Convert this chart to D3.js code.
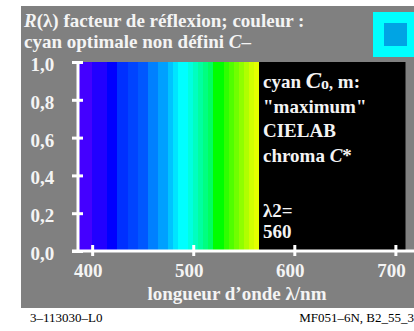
<!DOCTYPE html>
<html>
<head>
<meta charset="utf-8">
<script src="https://cdn.jsdelivr.net/npm/d3@7"></script>
<style>
  body { margin: 0; background: #fff; }
  svg { display: block; }
  text { font-family: "Liberation Serif", "Times New Roman", serif; }
</style>
</head>
<body>
<script>
// spectral bands of the optimal colour (reflectance 1 inside, 0 elsewhere)
let bandStart = [386, 400, 415, 425, 435, 445, 455, 465, 475, 480, 485, 495, 500, 505, 510, 515, 520, 530, 535, 540, 545, 550, 555, 560];
let bandEnd   = [400, 415, 425, 435, 445, 455, 465, 475, 480, 485, 495, 500, 505, 510, 515, 520, 530, 535, 540, 545, 550, 555, 560, 565];
let bandColor = ['#4400ff', '#2200ff', '#0000ff', '#0030ff', '#0044ff', '#0058ff', '#0080ff', '#00a0ff', '#00c4ff', '#00e4ff',
                 '#00ffff', '#00ffe0', '#00ffc0', '#00ffa0', '#00ff80', '#00ff60', '#00ff00', '#30ff00', '#50ff00', '#70ff00',
                 '#90ff00', '#b0ff00', '#d0ff00', '#e4ff00'];
let bandValue = 1.0;
let xTicks = [400, 500, 600, 700];
let yTicks = [0, 0.2, 0.4, 0.6, 0.8, 1.0];
let xDomain = [386, 710];

let width = 414;
let height = 331;
let fs = 19;
let svg = d3.select('body').append('svg')
   .attr('width', width)
   .attr('height', height);

// grey page
svg.append('rect')
   .attr('x', 21).attr('y', 6)
   .attr('width', width - 21).attr('height', 302)
   .attr('fill', '#808080');

// colour sample in the corner
svg.append('rect').attr('x', 373).attr('y', 12).attr('width', 41).attr('height', 45).attr('fill', '#00ffff');
svg.append('rect').attr('x', 384).attr('y', 23).attr('width', 23).attr('height', 23).attr('fill', '#00a4e4');

// title
let title1 = svg.append('text').attr('x', 24).attr('y', 27)
   .attr('fill', '#f4f4f4').attr('font-weight', 'bold').attr('font-size', fs);
title1.append('tspan').attr('font-style', 'italic').text('R');
title1.append('tspan').text('(λ) facteur de réflexion; couleur :');
let title2 = svg.append('text').attr('x', 24).attr('y', 48)
   .attr('fill', '#f4f4f4').attr('font-weight', 'bold').attr('font-size', fs);
title2.append('tspan').text('cyan optimale non défini ');
title2.append('tspan').attr('font-style', 'italic').text('C');
title2.append('tspan').text('–');

// scales
let xScale = d3.scaleLinear().domain(xDomain).range([78, 405.5]);
let yScale = d3.scaleLinear().domain([0, 1]).range([251, 62]);

// plot background
svg.append('rect')
   .attr('x', xScale(xDomain[0])).attr('y', yScale(1))
   .attr('width', xScale(xDomain[1]) - xScale(xDomain[0]))
   .attr('height', yScale(0) - yScale(1))
   .attr('fill', '#000');

// bands
svg.selectAll('rect.band')
   .data(bandStart)
   .enter()
   .append('rect')
   .attr('class', 'band')
   .attr('x', (d) => xScale(d))
   .attr('y', yScale(bandValue))
   .attr('width', (d, i) => xScale(bandEnd[i]) - xScale(d))
   .attr('height', yScale(0) - yScale(bandValue))
   .attr('fill', (d, i) => bandColor[i])
   .attr('shape-rendering', 'crispEdges');

// text in the black part
let info = svg.append('g').attr('fill', '#f4f4f4').attr('font-weight', 'bold').attr('font-size', fs);
let l1 = info.append('text').attr('x', 263).attr('y', 88);
l1.append('tspan').text('cyan ');
l1.append('tspan').attr('font-style', 'italic').attr('font-size', 23).text('C');
l1.append('tspan').attr('font-size', 16).attr('dy', 1).text('o,');
l1.append('tspan').attr('dy', -1).text(' m:');
info.append('text').attr('x', 263).attr('y', 112.5).text('"maximum"');
info.append('text').attr('x', 263).attr('y', 137).text('CIELAB');
let l4 = info.append('text').attr('x', 263).attr('y', 161.5);
l4.append('tspan').text('chroma ');
l4.append('tspan').attr('font-style', 'italic').text('C');
l4.append('tspan').text('*');
info.append('text').attr('x', 263).attr('y', 216.5).text('λ2=');
info.append('text').attr('x', 263).attr('y', 238).text('560');

// axes
let fmt = (d) => d3.format('.1f')(d).replace('.', ',');
let yAxis = svg.append('g')
   .attr('transform', 'translate(78, 0)')
   .call(d3.axisLeft(yScale).tickValues(yTicks).tickFormat(fmt).tickSize(0).tickPadding(23.7));
let xAxis = svg.append('g')
   .attr('transform', 'translate(0, 251)')
   .call(d3.axisBottom(xScale).tickValues(xTicks).tickFormat(d3.format('d')).tickSize(0).tickPadding(12.2));

yAxis.select('.domain').attr('stroke', '#fff').attr('stroke-width', 3).attr('d', 'M0,' + (yScale(1) - 1) + 'V' + yScale(0));
xAxis.select('.domain').attr('stroke', '#fff').attr('stroke-width', 3).attr('d', 'M72,0H414');
yAxis.selectAll('.tick line').attr('stroke', '#fff').attr('stroke-width', 3).attr('x1', -6).attr('x2', 5);
xAxis.selectAll('.tick line').attr('stroke', '#fff').attr('stroke-width', 3).attr('y1', -6).attr('y2', 5);
yAxis.selectAll('.tick text').attr('dy', '0.45em');
xAxis.selectAll('.tick text').attr('dx', -4.5);
svg.selectAll('.tick text')
   .attr('fill', '#f4f4f4')
   .attr('font-family', '"Liberation Serif", serif')
   .attr('font-weight', 'bold')
   .attr('font-size', fs);

// axis caption
svg.append('text')
   .attr('x', 237).attr('y', 300)
   .attr('text-anchor', 'middle')
   .attr('fill', '#f4f4f4').attr('font-weight', 'bold').attr('font-size', fs)
   .text('longueur d’onde λ/nm');

// footer
svg.append('text').attr('x', 30).attr('y', 322).attr('font-size', 13).attr('fill', '#000').text('3–113030–L0');
svg.append('text').attr('x', 414).attr('y', 322).attr('text-anchor', 'end').attr('font-size', 13).attr('fill', '#000').text('MF051–6N, B2_55_3');
</script>
</body>
</html>
